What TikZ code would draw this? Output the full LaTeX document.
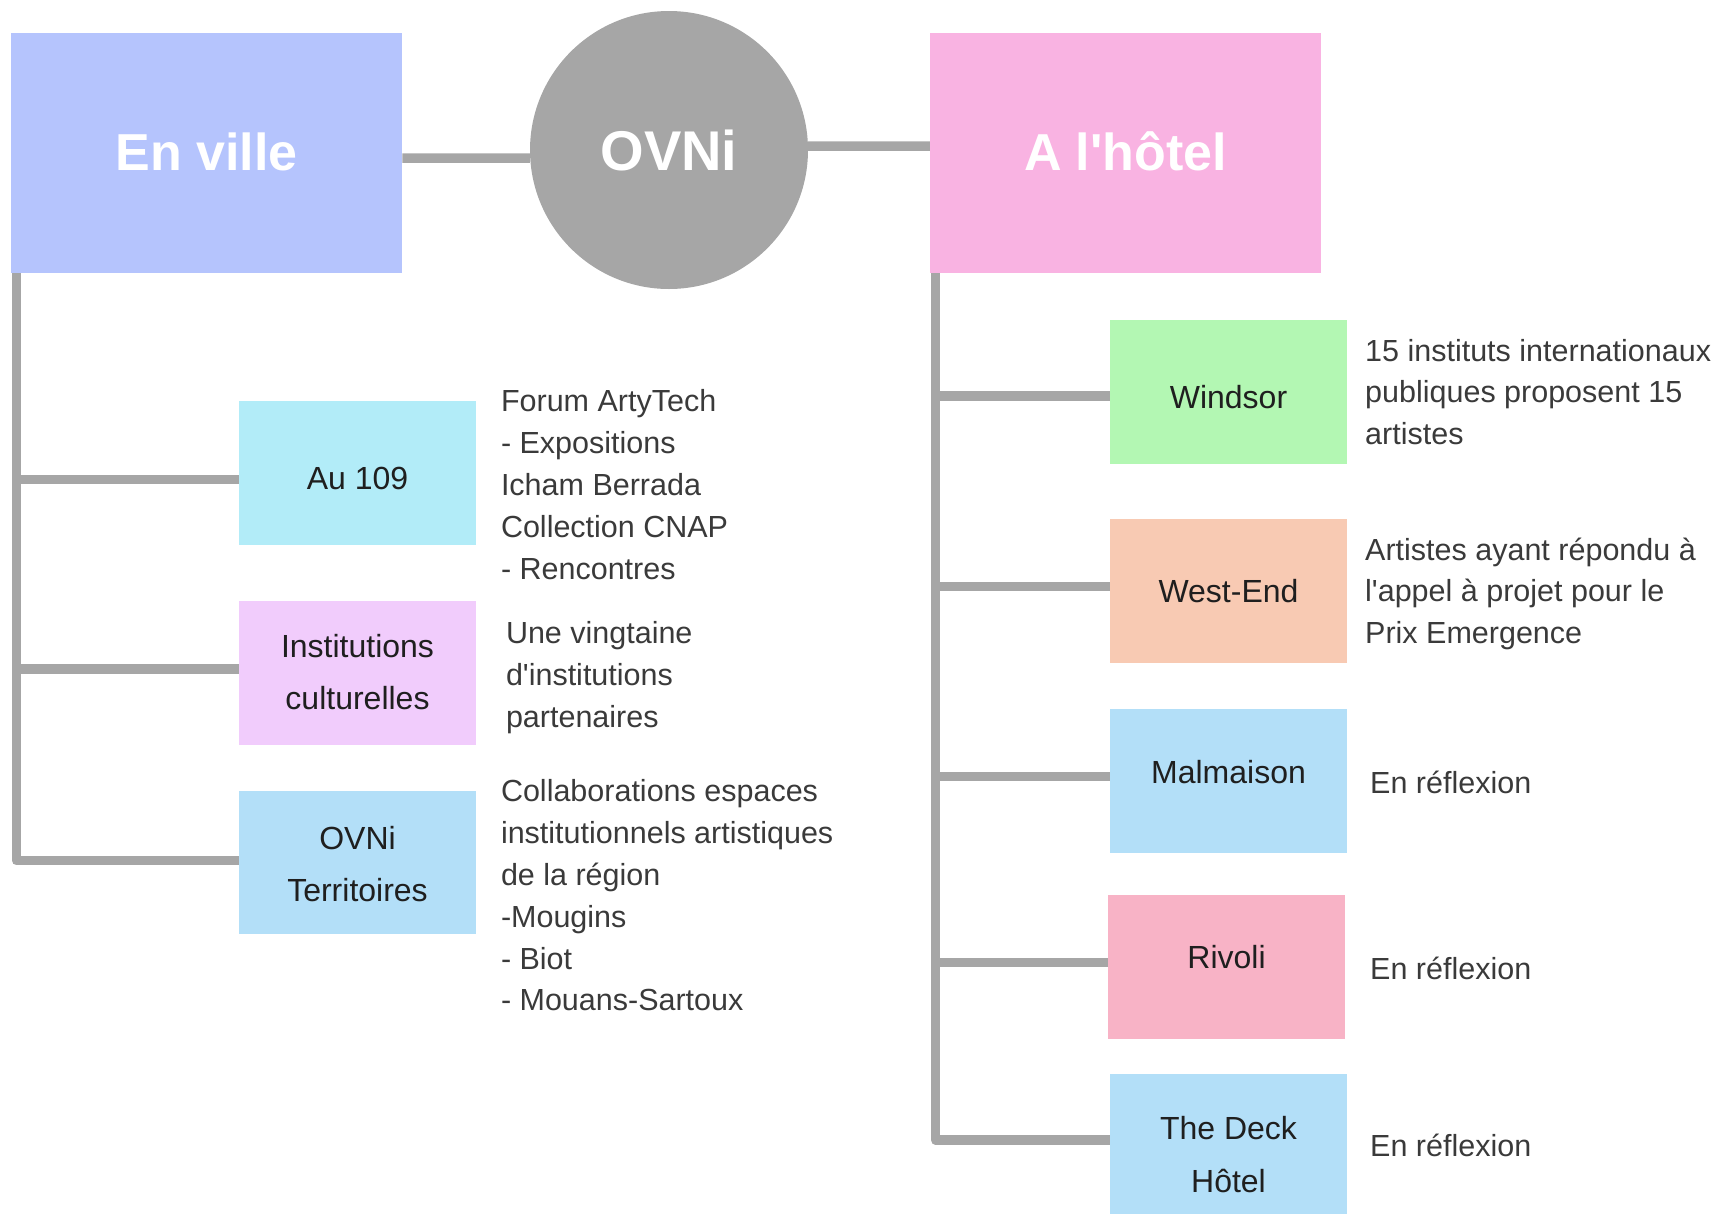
\documentclass[tikz,border=0pt]{standalone}
\usepackage{fontspec}
\setmainfont{Liberation Sans}
\usetikzlibrary{backgrounds}
\definecolor{cEv}{HTML}{B5C4FD}
\definecolor{cHo}{HTML}{F9B3E2}
\definecolor{cGrey}{HTML}{A6A6A6}
\definecolor{cAu}{HTML}{B2ECF8}
\definecolor{cInst}{HTML}{F1CCFC}
\definecolor{cBlue}{HTML}{B3DFF8}
\definecolor{cWin}{HTML}{B3F7B3}
\definecolor{cWe}{HTML}{F8CAB3}
\definecolor{cRiv}{HTML}{F8B3C6}
\definecolor{cLbl}{HTML}{1F1F1F}
\definecolor{cDesc}{HTML}{3A3A3A}
\begin{document}
\begin{tikzpicture}[x=1pt,y=-1pt,
  conn/.style={draw=cGrey, line width=9.5pt, line join=round},
  bigbox/.style={rectangle, anchor=north west, inner sep=0pt, minimum width=391pt, minimum height=240pt},
  smallbox/.style={rectangle, anchor=north west, inner sep=0pt, minimum width=237pt, minimum height=143.5pt},
  title/.style={text=white, font=\fontsize{52}{60}\selectfont\bfseries, inner sep=0pt, anchor=base},
  lbl/.style={text=cLbl, font=\fontsize{32}{52.5}\selectfont, inner sep=0pt, align=center},
  desc/.style={text=cDesc, font=\fontsize{30.5}{41.8}\selectfont, inner sep=0pt, align=left, anchor=north west},
]
\useasboundingbox (0,0) rectangle (1716,1213);

% main boxes
\node[bigbox, fill=cEv] (ev) at (11,33) {};
\node[circle, fill=cGrey, minimum size=278pt, inner sep=0pt] (ov) at (669,150) {};
\node[bigbox, fill=cHo] (ho) at (930,33) {};
\node[title] (evT) at (206.5,170) {En ville};
\node[title, font=\fontsize{56}{60}\selectfont\bfseries] (ovT) at (669,170) {OVNi};
\node[title] (hoT) at (1125.5,170) {A l\textquotesingle hôtel};

% left boxes
\node[smallbox, fill=cAu] (au) at (239,401) {};
\node[smallbox, fill=cInst] (inst) at (239,601) {};
\node[smallbox, fill=cBlue] (otr) at (239,790.5) {};
\node[lbl, anchor=base] (auT) at (357.5,489.3) {Au 109};
\node[lbl, anchor=north] (instT) at (357.5,620.5) {\strut Institutions\\\strut culturelles};
\node[lbl, anchor=north] (otrT) at (357.5,812.5) {\strut OVNi\\\strut Territoires};

% right boxes
\node[smallbox, fill=cWin] (win) at (1110,320) {};
\node[smallbox, fill=cWe] (we) at (1110,519) {};
\node[smallbox, fill=cBlue] (mal) at (1110,709) {};
\node[smallbox, fill=cRiv] (riv) at (1108,895) {};
\node[smallbox, fill=cBlue, minimum height=144pt] (deck) at (1110,1074) {};
\node[lbl, anchor=base] (winT) at (1228.5,408.3) {Windsor};
\node[lbl, anchor=base] (weT) at (1228.5,602.7) {West-End};
\node[lbl, anchor=base] (malT) at (1228.5,783.7) {Malmaison};
\node[lbl, anchor=base] (rivT) at (1226.5,968.9) {Rivoli};
\node[lbl, anchor=north] (deckT) at (1228.5,1102.9) {\strut The Deck\\\strut Hôtel};

% descriptions
\node[desc] (auD) at (500.8,382.4) {\strut Forum ArtyTech\\\strut - Expositions\\\strut Icham Berrada\\\strut Collection CNAP\\\strut - Rencontres};
\node[desc] (instD) at (505.8,614) {\strut Une vingtaine\\\strut d\textquotesingle institutions\\\strut partenaires};
\node[desc] (otrD) at (500.8,772.4) {\strut Collaborations espaces\\\strut institutionnels artistiques\\\strut de la région\\\strut -Mougins\\\strut - Biot\\\strut - Mouans-Sartoux};
\node[desc] (winD) at (1365,331.7) {\strut 15 instituts internationaux\\\strut publiques proposent 15\\\strut artistes};
\node[desc] (weD) at (1365,530.7) {\strut Artistes ayant répondu à\\\strut l\textquotesingle appel à projet pour le\\\strut Prix Emergence};
\node[desc, anchor=base west] (malD) at (1370,793.9) {En réflexion};
\node[desc, anchor=base west] (rivD) at (1370,979) {En réflexion};
\node[desc, anchor=base west] (deckD) at (1370,1156.5) {En réflexion};

\coordinate (lt) at (16.5,273);
\coordinate (rt) at (935.7,273);

\begin{pgfonlayer}{background}
\draw[conn] ([yshift=-5pt]ev.east) -- ([yshift=-8pt]ov.west);
\draw[conn] ([yshift=4pt]ov.east) -- ([yshift=7pt]ho.west);
% left tree
\draw[conn] (lt) |- ([yshift=1.75pt]otr.west);
\draw[conn] ([yshift=-6.75pt]au.west -| lt) -- ([yshift=-6.75pt]au.west);
\draw[conn] ([yshift=3.75pt]inst.west -| lt) -- ([yshift=3.75pt]inst.west);
% right tree
\draw[conn] (rt) |- ([yshift=6pt]deck.west);
\draw[conn] ([yshift=-4.25pt]win.west -| rt) -- ([yshift=-4.25pt]win.west);
\draw[conn] ([yshift=4.25pt]we.west -| rt) -- ([yshift=4.25pt]we.west);
\draw[conn] ([yshift=4.25pt]mal.west -| rt) -- ([yshift=4.25pt]mal.west);
\draw[conn] ([yshift=4.25pt]riv.west -| rt) -- ([yshift=4.25pt]riv.west);
\end{pgfonlayer}
\end{tikzpicture}
\end{document}
